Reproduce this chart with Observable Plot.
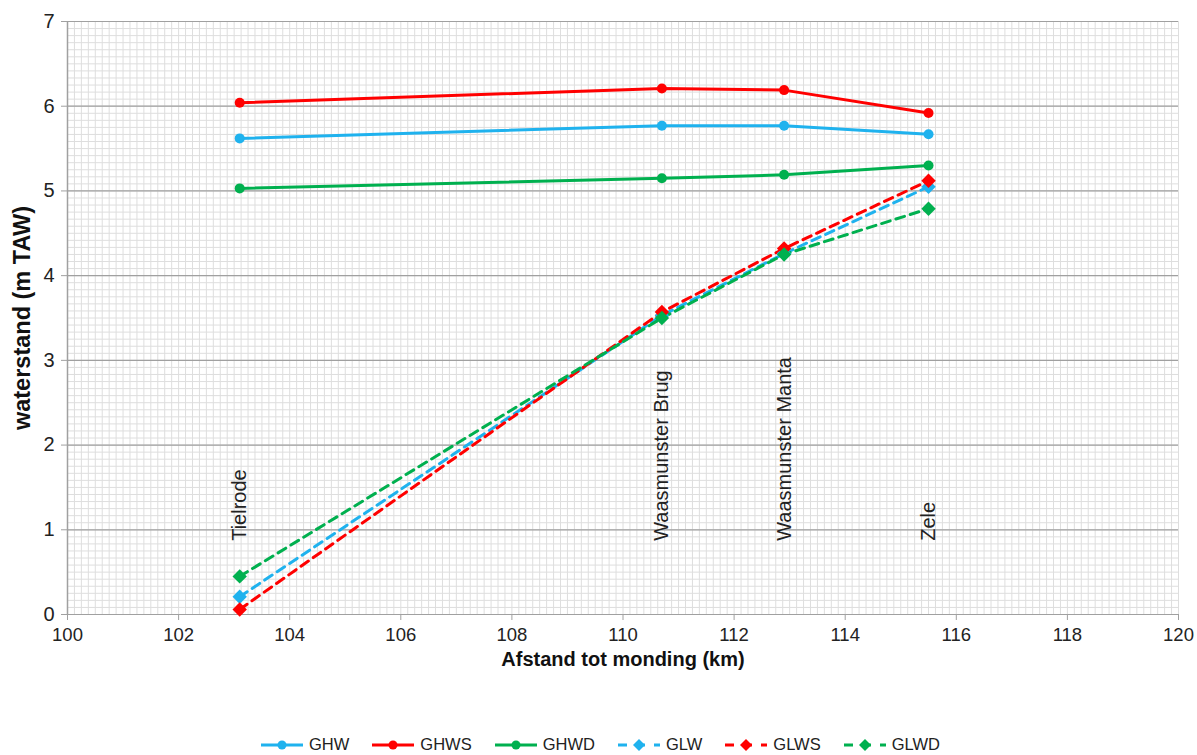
<!DOCTYPE html>
<html>
<head>
<meta charset="utf-8">
<script src="https://cdn.jsdelivr.net/npm/d3@7"></script>
<script src="https://cdn.jsdelivr.net/npm/@observablehq/plot@0.6"></script>
<style>
  html, body { margin: 0; padding: 0; background: #fff; }
  body { width: 1197px; font-family: "Liberation Sans", Arial, sans-serif; }
  #legend { display: flex; justify-content: center; gap: 21px; padding-top: 45px; font-size: 16.5px; color: #222; margin-left: 2px; }
  .item { display: flex; align-items: center; gap: 4px; }
  svg g[aria-label="x-axis tick label"] text { font-size: 18.5px; }
  svg g[aria-label="y-axis tick label"] text { font-size: 20px; }
</style>
</head>
<body>
<div id="chart"></div>
<div id="legend"></div>
<script>
// Station distances (km from mouth) and names
const stations = ["Tielrode", "Waasmunster Brug", "Waasmunster Manta", "Zele"];
const km = [103.1, 110.7, 112.9, 115.5];

// Series values (m TAW) per station
const GHW  = [5.62, 5.77, 5.77, 5.67];
const GHWS = [6.04, 6.21, 6.19, 5.92];
const GHWD = [5.03, 5.15, 5.19, 5.30];
const GLW  = [0.21, 3.53, 4.26, 5.05];
const GLWS = [0.06, 3.57, 4.32, 5.12];
const GLWD = [0.45, 3.50, 4.25, 4.79];

const seriesNames = ["GHW", "GHWS", "GHWD", "GLW", "GLWS", "GLWD"];
const seriesValues = [GHW, GHWS, GHWD, GLW, GLWS, GLWD];
const seriesColors = ["#1fb2ee", "#ff0000", "#00b04f", "#1fb2ee", "#ff0000", "#00b04f"];
const seriesDashed = [false, false, false, true, true, true];

const xTicks = [100, 102, 104, 106, 108, 110, 112, 114, 116, 118, 120];
const yTicks = [0, 1, 2, 3, 4, 5, 6, 7];

const rows = [];
seriesNames.forEach((s, i) => {
  seriesValues[i].forEach((v, j) => rows.push({series: s, x: km[j], y: v, station: stations[j]}));
});
const labelRows = stations.map((s, j) => ({station: s, x: km[j]}));

const xMinor = d3.range(100, 120.0001, 0.125);
const yMinor = d3.range(0, 7.0001, 1 / 12);

const lineMarks = seriesNames.map((s, i) => Plot.line(rows.filter(d => d.series === s), {
  x: "x", y: "y", stroke: seriesColors[i], strokeWidth: 3,
  strokeDasharray: seriesDashed[i] ? "9,6" : null
}));
const dotMarks = seriesNames.map((s, i) => Plot.dot(rows.filter(d => d.series === s), {
  x: "x", y: "y", fill: seriesColors[i], stroke: "none",
  symbol: seriesDashed[i] ? "diamond2" : "circle",
  r: seriesDashed[i] ? 6.5 : 5
}));

const chart = Plot.plot({
  width: 1197,
  height: 690,
  marginTop: 21,
  marginBottom: 76,
  marginLeft: 67,
  marginRight: 19,
  style: {fontFamily: "Liberation Sans, Arial, sans-serif", fontSize: "19px", color: "#222", background: "#fff"},
  x: {domain: [100, 120], ticks: xTicks},
  y: {domain: [0, 7], ticks: yTicks},
  marks: [
    Plot.ruleX(xMinor, {stroke: "#dedede", strokeWidth: 1}),
    Plot.ruleY(yMinor, {stroke: "#dedede", strokeWidth: 1}),
    Plot.ruleY(yTicks, {stroke: "#a0a0a0", strokeWidth: 1.2}),
    Plot.ruleX([100], {stroke: "#a0a0a0", strokeWidth: 1.5}),
    Plot.axisX({ticks: xTicks, tickSize: 6, tickPadding: 7, label: null, stroke: "#a0a0a0", tickFormat: d => String(d)}),
    Plot.axisY({ticks: yTicks, tickSize: 6, tickPadding: 7, label: null, stroke: "#a0a0a0", tickFormat: d => String(d)}),
    Plot.text(labelRows, {x: "x", y: 0.87, text: "station", rotate: -90, textAnchor: "start", fontSize: 20, fill: "#222"}),
    ...lineMarks,
    ...dotMarks,
    Plot.text(["waterstand (m TAW)"], {frameAnchor: "left", textAnchor: "middle", rotate: -90, dx: -45, fontWeight: "bold", fontSize: 23.5, fill: "#111"}),
    Plot.text(["Afstand tot monding (km)"], {frameAnchor: "bottom", dy: 51, fontWeight: "bold", fontSize: 20, fill: "#111"})
  ]
});
document.getElementById("chart").appendChild(chart);

// Legend
const legend = d3.select("#legend");
seriesNames.forEach((s, i) => {
  const item = legend.append("div").attr("class", "item");
  const svg = item.append("svg").attr("width", 46).attr("height", 16);
  svg.append("line").attr("x1", 2).attr("x2", 44).attr("y1", 8).attr("y2", 8)
    .attr("stroke", seriesColors[i]).attr("stroke-width", 3)
    .attr("stroke-dasharray", seriesDashed[i] ? "9,9" : null);
  if (seriesDashed[i]) {
    svg.append("path").attr("d", "M23,2L29,8L23,14L17,8Z").attr("fill", seriesColors[i]);
  } else {
    svg.append("circle").attr("cx", 23).attr("cy", 8).attr("r", 4.5).attr("fill", seriesColors[i]);
  }
  item.append("span").text(s);
});
</script>
</body>
</html>
